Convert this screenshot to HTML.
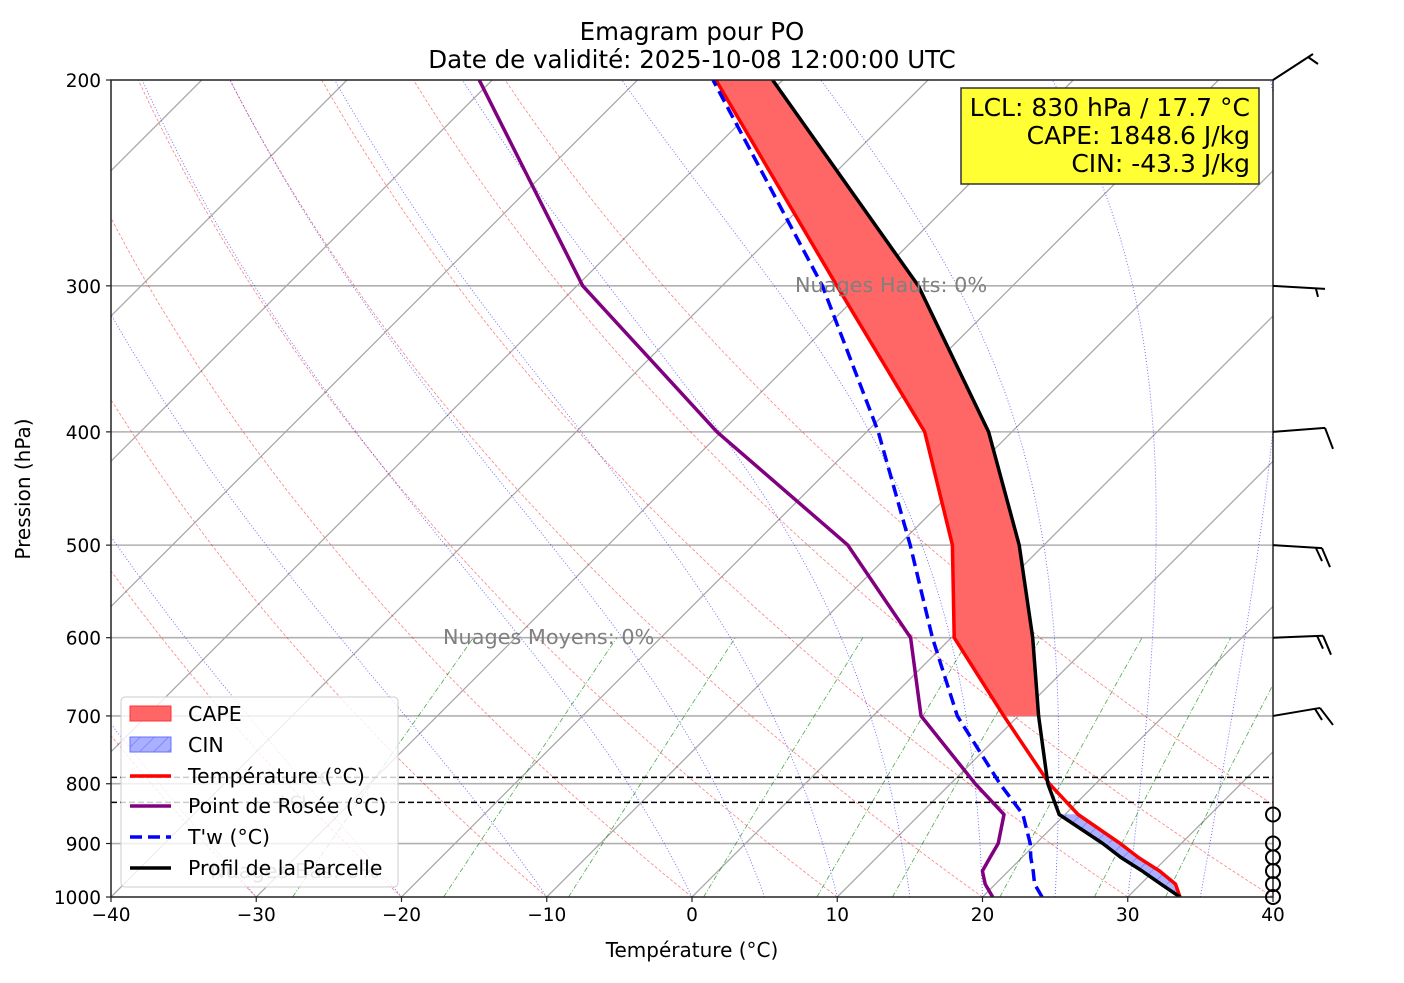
<!DOCTYPE html>
<html><head><meta charset="utf-8"><style>
body{margin:0;background:#fff;}
svg text{font-family:"DejaVu Sans","Liberation Sans",sans-serif;}
</style></head><body>
<svg id="chart" width="1404" height="978" viewBox="0 0 1404 978" xmlns="http://www.w3.org/2000/svg">
<defs>
<clipPath id="plotclip"><rect x="111" y="80" width="1162" height="817"/></clipPath>
<pattern id="hatch" width="10" height="10" patternUnits="userSpaceOnUse" patternTransform="rotate(45)">
<rect width="10" height="10" fill="#aab0ff"/><line x1="0" y1="0" x2="0" y2="10" stroke="#6670ff" stroke-width="1.2"/></pattern>
</defs>
<rect x="0" y="0" width="1404" height="978" fill="#fff"/>
<g id="bg" clip-path="url(#plotclip)"></g>
<g id="fills" clip-path="url(#plotclip)"></g>
<g id="series" clip-path="url(#plotclip)"></g>
<g id="axes"></g>
<g id="barbs"></g>
<text x="692" y="40" font-size="24.5" text-anchor="middle">Emagram pour PO</text>
<text x="692" y="68" font-size="24.5" text-anchor="middle">Date de validité: 2025-10-08 12:00:00 UTC</text>
<text x="692" y="957" font-size="20" text-anchor="middle">Température (°C)</text>
<text x="0" y="0" font-size="20" text-anchor="middle" transform="translate(30,489) rotate(-90)">Pression (hPa)</text>
<text x="795" y="292" font-size="20.8" fill="#808080">Nuages Hauts: 0%</text>
<text x="443" y="644" font-size="20.8" fill="#808080">Nuages Moyens: 0%</text>
<text x="210" y="878" font-size="20.8" fill="#808080">Nuages Bas: 0%</text>
<text x="300" y="784" font-size="17" fill="#808080">LFC</text>
<text x="280" y="808" font-size="17" fill="#808080">LCL</text>
<g>
<rect x="961" y="88" width="298" height="96" fill="#ffff33" stroke="#333" stroke-width="1.5"/>
<text x="1250" y="116" font-size="25" text-anchor="end">LCL: 830 hPa / 17.7 °C</text>
<text x="1250" y="144" font-size="25" text-anchor="end">CAPE: 1848.6 J/kg</text>
<text x="1250" y="172" font-size="25" text-anchor="end">CIN: -43.3 J/kg</text>
</g>
<g>
<rect x="121" y="697" width="277" height="190" rx="4" fill="#fff" fill-opacity="0.8" stroke="#ccc" stroke-width="1"/>
<rect x="130" y="706" width="41" height="15" fill="#ff6666" stroke="#ff3333"/>
<text x="188" y="721" font-size="20.5">CAPE</text>
<rect x="130" y="737" width="41" height="15" fill="url(#hatch)" stroke="#6670ff"/>
<text x="188" y="752" font-size="20.5">CIN</text>
<line x1="130" y1="776" x2="171" y2="776" stroke="#ff0000" stroke-width="3.5"/>
<text x="188" y="783" font-size="20.5">Température (°C)</text>
<line x1="130" y1="806" x2="171" y2="806" stroke="#800080" stroke-width="3.5"/>
<text x="188" y="813" font-size="20.5">Point de Rosée (°C)</text>
<line x1="130" y1="837" x2="171" y2="837" stroke="#0000ff" stroke-width="3.5" stroke-dasharray="12,6"/>
<text x="188" y="844" font-size="20.5">T'w (°C)</text>
<line x1="130" y1="868" x2="171" y2="868" stroke="#000" stroke-width="3.5"/>
<text x="188" y="875" font-size="20.5">Profil de la Parcelle</text>
</g>
</svg>
<script>
const levels=[1000,975,950,925,900,850,800,700,600,500,400,300,200];
const temperature=[33.6,32.4,30.4,28.0,25.8,20.9,16.8,9.0,0.2,-6.3,-16.0,-32.1,-54.6];
const dewpoint=[20.7,19.3,18.2,17.8,17.4,15.8,11.7,3.3,-2.8,-13.5,-30.3,-49.6,-70.9];
const wetbulb=[24.1,22.7,21.7,20.6,19.6,17.1,13.4,5.8,-1.3,-9.2,-19.2,-33.1,-54.8];
const parcel=[33.6,31.4,29.2,26.8,24.6,19.6,16.7,11.4,5.6,-1.7,-11.6,-26.5,-50.7];
const xTicks=[-40,-30,-20,-10,0,10,20,30,40];
const yTicks=[200,300,400,500,600,700,800,900,1000];
const hLines=[790,830];
const barbLevels=[200,300,400,500,600,700];
const calmLevels=[850,900,925,950,975,1000];

const NS="http://www.w3.org/2000/svg";
const L=111,R=1273,T=80,B=897;
function Y(p){return T+Math.log(p/200)/Math.log(5)*(B-T);}
function X(t,p){return L+(t+40)*(R-L)/80+(B-Y(p));}
function mk(tag,attrs,parent){const e=document.createElementNS(NS,tag);for(const k in attrs)e.setAttribute(k,attrs[k]);parent.appendChild(e);return e;}
const bg=document.getElementById('bg'),fills=document.getElementById('fills'),series=document.getElementById('series'),axes=document.getElementById('axes'),barbs=document.getElementById('barbs');
function pathFrom(pts){return pts.map((q,i)=>(i?'L':'M')+q[0].toFixed(1)+','+q[1].toFixed(1)).join(' ');}

for(const p of yTicks){if(p===200||p===1000)continue;
const g=mk('line',{x1:L,x2:R,y1:Y(p),y2:Y(p),stroke:'#b0b0b0','stroke-width':1.6},bg);

}
for(let t=-170;t<=40;t+=10){
const e=mk('line',{x1:X(t,1000),y1:B,x2:X(t,200),y2:T,stroke:'#a8a8a8','stroke-width':1.3},bg);

}
for(let t0=-40;t0<=50;t0+=10){const pts=[];for(let p=1000;p>=200;p-=10){const t=(t0+273.15)*Math.pow(p/1000,0.2857)-273.15;pts.push([X(t,p),Y(p)]);}
const e=mk('path',{d:pathFrom(pts),fill:'none',stroke:'#ff0000','stroke-opacity':0.5,'stroke-width':0.8,'stroke-dasharray':'3,2'},bg);

}
function es(t){return 6.112*Math.exp(17.67*t/(t+243.5));}
for(const t0 of [-40,-30,-20,-10,0,5,10,15,20,25,30,35,40]){let tk=t0+273.15;const pts=[[X(t0,1000),B]];
for(let p=1000;p>200;p-=2){const tc=tk-273.15;const e=es(tc);const rs=0.622*e/(p-e);const Lv=2.5e6,Rd=287,cp=1005;
const dtdp=(Rd*tk+Lv*rs)/(p*(cp+Lv*Lv*rs*0.622/(Rd*tk*tk)));tk-=dtdp*2;pts.push([X(tk-273.15,p-2),Y(p-2)]);}
const e=mk('path',{d:pathFrom(pts),fill:'none',stroke:'#0000ff','stroke-opacity':0.6,'stroke-width':0.9,'stroke-dasharray':'1,2'},bg);

}
for(const td0 of [-27.5,-17.1,-8.5,0.8,8.6,13.8,21.2,27.7,32.6]){const e0=es(td0);const w=0.622*e0/(1000-e0);const pts=[];
for(let p=1000;p>=600;p-=10){const e=w*p/(0.622+w);const l=Math.log(e/6.112);const td=243.5*l/(17.67-l);pts.push([X(td,p),Y(p)]);}
const e=mk('path',{d:pathFrom(pts),fill:'none',stroke:'#008000','stroke-opacity':0.7,'stroke-width':0.8,'stroke-dasharray':'5,2,1,2'},bg);

}
for(const p of hLines){const e=mk('line',{x1:L,x2:R,y1:Y(p),y2:Y(p),stroke:'#000','stroke-width':1.5,'stroke-dasharray':'6,3'},bg);

}
for(let i=0;i<levels.length-1;i++){const a=levels[i],b=levels[i+1];
const quad=[[X(temperature[i],a),Y(a)],[X(temperature[i+1],b),Y(b)],[X(parcel[i+1],b),Y(b)],[X(parcel[i],a),Y(a)]];
if(parcel[i]>temperature[i]&&parcel[i+1]>temperature[i+1]){
const e=mk('path',{d:pathFrom(quad)+'Z',fill:'#ff6666',stroke:'#ff6666','stroke-width':0.5},fills);

}
else if(b>=850&&parcel[i]<=temperature[i]&&parcel[i+1]<=temperature[i+1]){
const e=mk('path',{d:pathFrom(quad)+'Z',fill:'url(#hatch)',stroke:'#aab0ff','stroke-width':0.5},fills);

}}
function line(arr,color,dash,name){const pts=levels.map((p,i)=>[X(arr[i],p),Y(p)]);
const e=mk('path',{d:pathFrom(pts),fill:'none',stroke:color,'stroke-width':3.5,'stroke-linejoin':'round'},series);
if(dash)e.setAttribute('stroke-dasharray',dash);

}
line(temperature,'#ff0000',null,'temperature-line');
line(dewpoint,'#800080',null,'dewpoint-line');
line(wetbulb,'#0000ff','12,6','wetbulb-line');
line(parcel,'#000000',null,'parcel-line');
const fr=mk('rect',{x:L,y:T,width:R-L,height:B-T,fill:'none',stroke:'#222','stroke-width':1.5},axes);


for(const t of xTicks){const x=L+(t+40)*(R-L)/80;
const tk=mk('line',{x1:x,x2:x,y1:B,y2:B+5,stroke:'#222','stroke-width':1.2},axes);


const tx=mk('text',{x:x,y:B+24,'font-size':18.5,'text-anchor':'middle'},axes);tx.textContent=(t<0?'\u2212'+(-t):t);

}
for(const p of yTicks){const y=Y(p);
const tk=mk('line',{x1:L-5,x2:L,y1:y,y2:y,stroke:'#222','stroke-width':1.2},axes);


const tx=mk('text',{x:L-10,y:y+7,'font-size':18.5,'text-anchor':'end'},axes);tx.textContent=p;

}
const barbShapes={200:[[0,0,40,-26],[35,-23,45,-16]],300:[[0,0,52,3],[43,3,45,11]],400:[[0,0,52,-4],[52,-4,60,17]],
500:[[0,0,49,3],[49,3,57,22],[43,3,49,16]],600:[[0,0,50,-2],[50,-2,58,17],[44,-2,50,11]],700:[[0,0,47,-8],[47,-8,60,9],[42,-7,49,4]]};
for(const p of barbLevels){const y=Y(p);for(const s of barbShapes[p]){
const e=mk('line',{x1:R+s[0],y1:y+s[1],x2:R+s[2],y2:y+s[3],stroke:'#000','stroke-width':2},barbs);

}}
for(const p of calmLevels){const e=mk('circle',{cx:R,cy:Y(p),r:7,fill:'none',stroke:'#000','stroke-width':2},barbs);

}
</script>
</body></html>
